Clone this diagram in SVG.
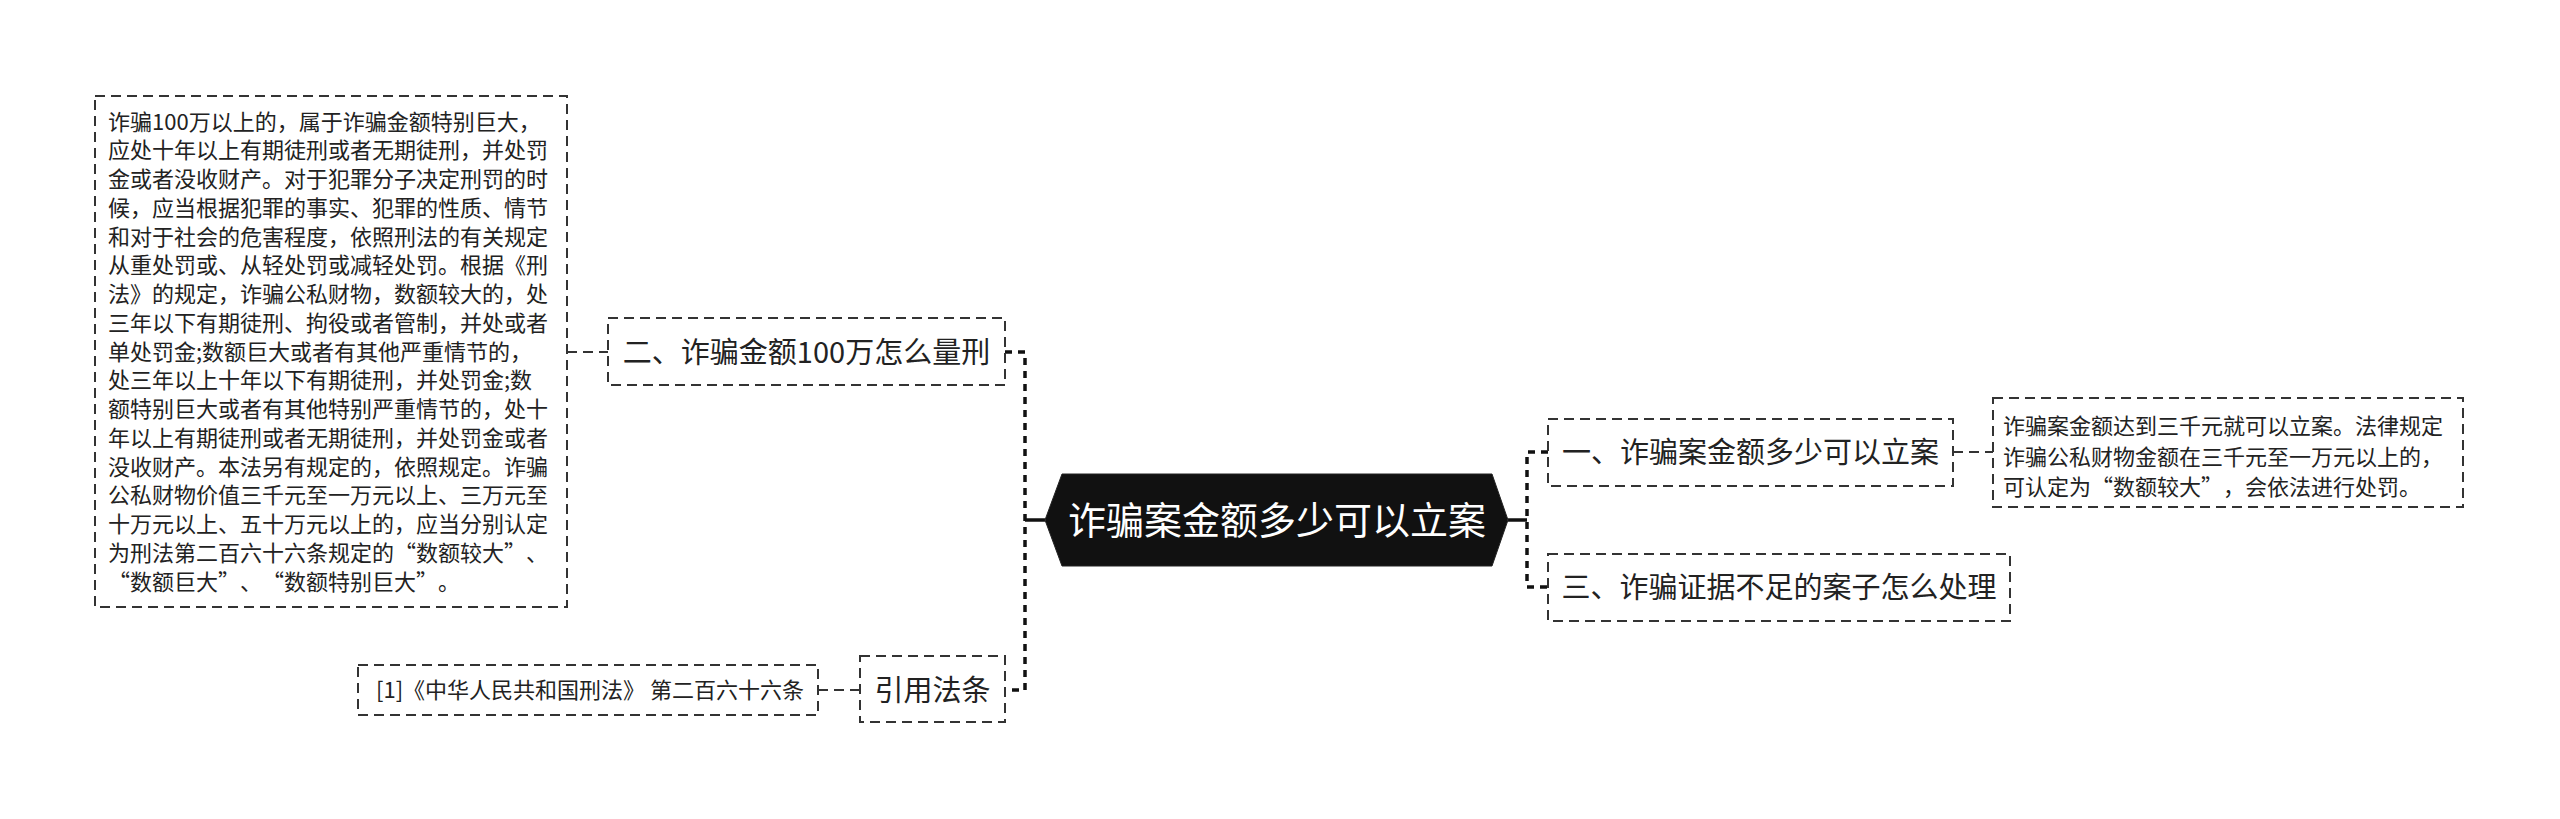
<svg xmlns="http://www.w3.org/2000/svg" width="2560" height="819" viewBox="0 0 2560 819">
<style>
.box{fill:#fff;stroke:#333;stroke-width:2;stroke-dasharray:10 6}
.t{font-family:"Noto Sans CJK SC","Noto Sans",sans-serif;fill:#222;text-spacing-trim:space-all}
.s{font-size:22px}
.m{font-size:29px;text-anchor:middle}
.trunk{fill:none;stroke:#111;stroke-width:3.5;stroke-dasharray:7 6}
.solid{fill:none;stroke:#111;stroke-width:3.5}
.thin{fill:none;stroke:#333;stroke-width:2;stroke-dasharray:10 6}
</style>
<rect width="2560" height="819" fill="#fff"/>
<g id="connectors">
<path class="trunk" d="M1005,352 H1025 V690 H1005"/>
<path class="solid" d="M1025,520 H1045"/>
<path class="trunk" d="M1548,452 H1527 V587 H1548"/>
<path class="solid" d="M1508,520 H1527"/>
<path class="thin" d="M567,352 H608"/>
<path class="thin" d="M818,690 H860"/>
<path class="thin" d="M1953,452 H1993"/>
</g>
<g id="root">
<polygon points="1045,520 1062,474 1492,474 1508,520 1492,566 1062,566" fill="#111" stroke="#222" stroke-width="1"/>
<text class="t" x="1277" y="534" font-size="38" text-anchor="middle" style="fill:#fff">诈骗案金额多少可以立案</text>
</g>
<g id="n2">
<rect class="box" x="608" y="318" width="397" height="67"/>
<text class="t m" x="806.5" y="362.5">二、诈骗金额100万怎么量刑</text>
</g>
<g id="n2detail">
<rect class="box" x="95" y="96" width="472" height="511"/>
<text class="t s">
<tspan x="108" y="129.7">诈骗100万以上的，属于诈骗金额特别巨大，</tspan>
<tspan x="108" y="158.45">应处十年以上有期徒刑或者无期徒刑，并处罚</tspan>
<tspan x="108" y="187.2">金或者没收财产。对于犯罪分子决定刑罚的时</tspan>
<tspan x="108" y="215.95">候，应当根据犯罪的事实、犯罪的性质、情节</tspan>
<tspan x="108" y="244.7">和对于社会的危害程度，依照刑法的有关规定</tspan>
<tspan x="108" y="273.45">从重处罚或、从轻处罚或减轻处罚。根据《刑</tspan>
<tspan x="108" y="302.2">法》的规定，诈骗公私财物，数额较大的，处</tspan>
<tspan x="108" y="330.95">三年以下有期徒刑、拘役或者管制，并处或者</tspan>
<tspan x="108" y="359.7">单处罚金;数额巨大或者有其他严重情节的，</tspan>
<tspan x="108" y="388.45">处三年以上十年以下有期徒刑，并处罚金;数</tspan>
<tspan x="108" y="417.2">额特别巨大或者有其他特别严重情节的，处十</tspan>
<tspan x="108" y="445.95">年以上有期徒刑或者无期徒刑，并处罚金或者</tspan>
<tspan x="108" y="474.7">没收财产。本法另有规定的，依照规定。诈骗</tspan>
<tspan x="108" y="503.45">公私财物价值三千元至一万元以上、三万元至</tspan>
<tspan x="108" y="532.2">十万元以上、五十万元以上的，应当分别认定</tspan>
<tspan x="108" y="560.95">为刑法第二百六十六条规定的“数额较大”、</tspan>
<tspan x="108" y="589.7">“数额巨大”、“数额特别巨大”。</tspan>
</text>
</g>
<g id="n4">
<rect class="box" x="860" y="656" width="145" height="66"/>
<text class="t m" x="932.5" y="700.5">引用法条</text>
</g>
<g id="n4detail">
<rect class="box" x="358" y="665" width="460" height="50"/>
<text class="t" x="590" y="698" font-size="22" text-anchor="middle">[1]《中华人民共和国刑法》 第二百六十六条</text>
</g>
<g id="n1">
<rect class="box" x="1548" y="419" width="405" height="67"/>
<text class="t m" x="1750.5" y="463">一、诈骗案金额多少可以立案</text>
</g>
<g id="n1detail">
<rect class="box" x="1993" y="398" width="470" height="109"/>
<text class="t s">
<tspan x="2003" y="434">诈骗案金额达到三千元就可以立案。法律规定</tspan>
<tspan x="2003" y="464.5">诈骗公私财物金额在三千元至一万元以上的，</tspan>
<tspan x="2003" y="495">可认定为“数额较大”，会依法进行处罚。</tspan>
</text>
</g>
<g id="n3">
<rect class="box" x="1548" y="554" width="462" height="67"/>
<text class="t m" x="1779" y="598">三、诈骗证据不足的案子怎么处理</text>
</g>
</svg>
